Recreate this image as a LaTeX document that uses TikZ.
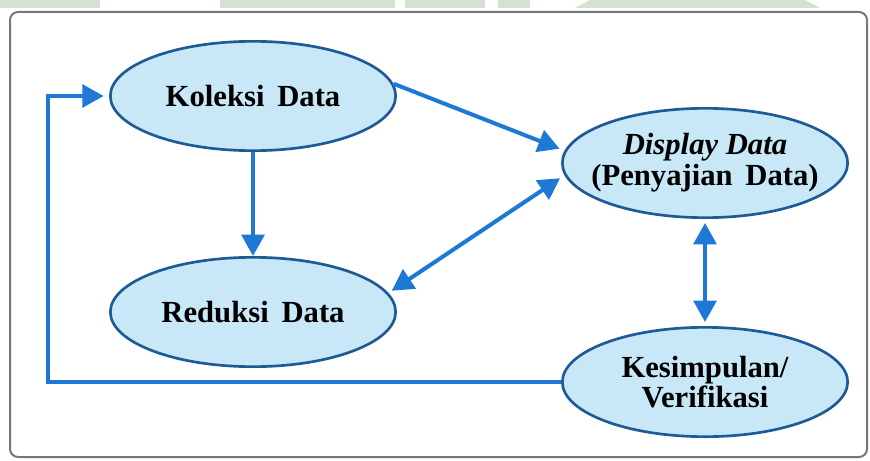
\documentclass[tikz,border=0pt]{standalone}
\usepackage{fontspec}
\setmainfont{Liberation Serif}
\usetikzlibrary{shapes.geometric,arrows.meta}
\definecolor{arrblue}{RGB}{30,120,214}
\definecolor{ellborder}{RGB}{30,90,150}
\definecolor{ellfill}{RGB}{200,232,248}
\definecolor{wmgreen}{RGB}{212,226,209}
\definecolor{framegray}{RGB}{120,120,120}
\tikzset{
  ell/.style={ellipse, draw=ellborder, line width=2pt, fill=ellfill,
    minimum width=214pt, minimum height=82pt, inner sep=0pt},
  txt/.style={font=\bfseries\fontsize{23}{23}\selectfont, align=center, inner sep=0pt},
  arr/.style={draw=arrblue, line width=3pt, -{Triangle[length=16pt,width=17pt]}},
  arrtwo/.style={draw=arrblue, line width=3pt, {Triangle[length=16pt,width=17pt]}-{Triangle[length=16pt,width=17pt]}}
}
\begin{document}
\begin{tikzpicture}[x=0.75pt,y=-0.75pt]
\useasboundingbox (0,0) rectangle (870,460);
\fill[white] (0,0) rectangle (870,460);
% watermark strips
\fill[wmgreen] (0,0) rectangle (100,8);
\fill[wmgreen] (220,0) rectangle (395,8);
\fill[wmgreen] (405,0) rectangle (485,8);
\fill[wmgreen] (498,0) rectangle (530,8);
\fill[wmgreen] (575,8) -- (590,0) -- (805,0) -- (820,8) -- cycle;
% frame
\draw[framegray, line width=1.5pt, rounded corners=6pt] (10,12) rectangle (867,457);
% ellipses
\node[ell] (kol) at (253,96) {};
\node[ell] (dis) at (705,163) {};
\node[ell] (red) at (253,312) {};
\node[ell] (kes) at (705,382) {};
\node[txt] (kolt) at (kol) {Koleksi\, Data};
\node[txt] (dist) at (dis) {\textit{Display Data}\\(Penyajian\, Data)};
\node[txt] (redt) at (red) {Reduksi\, Data};
\node[txt] (kest) at (kes) {Kesimpulan/\\Verifikasi};
% connectors
\draw[arr] (kol.south) -- (red.north);
\draw[arr, shorten >=4pt] (kol.5) -- (dis.175);
\draw[arrtwo, shorten >=4pt, shorten <=3pt] (red.8) -- (dis.185);
\draw[arrtwo, shorten >=3pt, shorten <=3pt] (dis.south) -- (kes.north);
\coordinate (corner) at (48,382);
\draw[arr, shorten >=4pt] (kes.west) -- (corner) |- (kol.west);
\end{tikzpicture}
\end{document}
